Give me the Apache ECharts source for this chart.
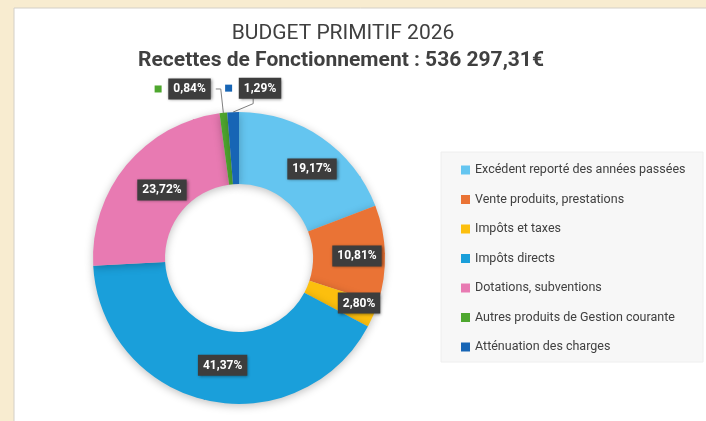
<!DOCTYPE html>
<html><head><meta charset="utf-8">
<script src="https://cdn.jsdelivr.net/npm/echarts@6/dist/echarts.min.js"></script>
<style>html,body{margin:0;padding:0;background:#f8ecd0}#c{width:706px;height:421px}</style>
</head><body><div id="c"></div>
<script>
const titleText = 'BUDGET PRIMITIF 2026';
const subtitleText = 'Recettes de Fonctionnement : 536 297,31€';
const categories = ['Excédent reporté des années passées','Vente produits, prestations','Impôts et taxes','Impôts directs','Dotations, subventions','Autres produits de Gestion courante','Atténuation des charges'];
const values = [19.17, 10.81, 2.80, 41.37, 23.72, 0.84, 1.29];
const colors = ['#64c5f0','#ea7335','#fcbf0e','#1a9fda','#e87ab2','#4ea72e','#1765b5'];
const outsideIdx = [5, 6];
// small label nudges (offsets from the library's default label position)
const labelNudge = {0: [9, 4], 1: [5, 1], 2: [16, 1], 3: [8, -3], 4: [10, 4]};

const fmt = v => v.toFixed(2).replace('.', ',') + '%';
const boxStyle = {color:'#fff', fontWeight:'bold', fontSize:12, fontFamily:'Roboto', backgroundColor:'#3d3d3d', padding:[5,5,4,5], shadowBlur:3, shadowColor:'rgba(0,0,0,0.45)', shadowOffsetX:1, shadowOffsetY:1};

const data = values.map((v, i) => {
  const item = {name: categories[i], value: v, itemStyle: {color: colors[i]}};
  if (outsideIdx.includes(i)) {
    item.label = {
      show: true, position: 'outside',
      formatter: '{sq|}  {b|' + fmt(v) + '}',
      rich: {sq: {width: 7, height: 7, backgroundColor: colors[i]}, b: boxStyle}
    };
    item.labelLine = {show: true, length: 24, length2: 5, lineStyle: {color: '#808080', width: 1}};
  } else {
    item.label = {show: true, position: 'inside', formatter: '{b|' + fmt(v) + '}', rich: {b: boxStyle}};
  }
  return item;
});

const chart = echarts.init(document.getElementById('c'));
chart.setOption({
  animation: false,
  graphic: [
    {type:'rect', shape:{x:14, y:8, width:700, height:420}, style:{fill:'#ffffff', stroke:'#d4d0c8', lineWidth:1}, z:-10},
    {type:'rect', shape:{x:441, y:152, width:262, height:210}, style:{fill:'#f7f7f7', stroke:'#eeeeee', lineWidth:1}, z:-9}
  ],
  title: [
    {text: titleText, left: 338, top: 18, textAlign: 'center', textStyle: {fontFamily:'Roboto', fontSize:21, fontWeight:'normal', color:'#404040'}},
    {text: subtitleText, left: 336, top: 45, textAlign: 'center', textStyle: {fontFamily:'Roboto', fontSize:21, fontWeight:'bold', color:'#404040'}}
  ],
  legend: {
    orient: 'vertical', left: 456, top: 158, icon: 'rect', itemWidth: 9, itemHeight: 9, itemGap: 15.5,
    textStyle: {fontFamily:'Roboto', fontSize: 12.5, color: '#404040', lineHeight: 14},
    data: categories
  },
  series: [{
    type: 'pie', center: [239, 258], radius: [74, 146], startAngle: 90, clockwise: true,
    avoidLabelOverlap: false,
    itemStyle: {shadowBlur: 8, shadowColor: 'rgba(0,0,0,0.25)', shadowOffsetY: 2},
    labelLayout: function (p) {
      const r = p.labelRect;
      if (p.dataIndex === 6) {
        return {x: r.x + r.width + 3, y: r.y, align: 'left', verticalAlign: 'top'};
      }
      const n = labelNudge[p.dataIndex];
      if (n) {
        return {x: r.x + r.width / 2 + n[0], y: r.y + r.height / 2 + n[1], align: 'center', verticalAlign: 'middle'};
      }
    },
    data: data
  }]
});
</script></body></html>
